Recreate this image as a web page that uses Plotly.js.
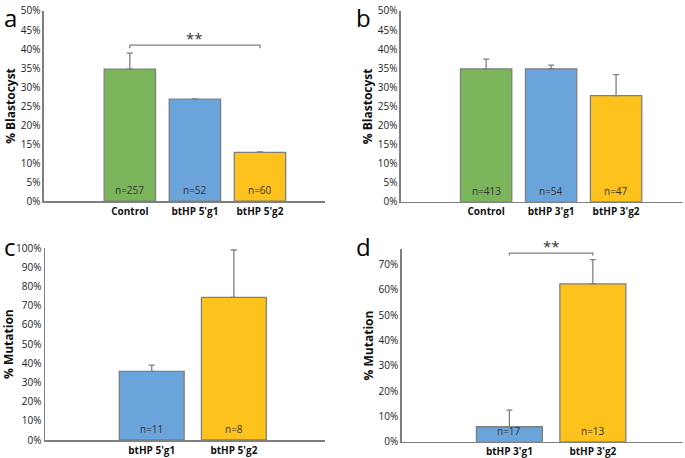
<!DOCTYPE html>
<html>
<head>
<meta charset="utf-8">
<script src="https://cdn.plot.ly/plotly-3.0.1.min.js"></script>
<style>html,body{margin:0;padding:0;background:#fff}#chart{width:685px;height:458px}</style>
</head>
<body>
<div id="chart"></div>
<script>
// Panel a
const catsA = ['Control', "btHP 5'g1", "btHP 5'g2"];
const valsA = [34.7, 26.8, 12.8];
const errA = [4.2, 0.1, 0.1];
const nA = ['n=257', 'n=52', 'n=60'];
// Panel b
const catsB = ['Control', "btHP 3'g1", "btHP 3'g2"];
const valsB = [34.8, 34.8, 27.8];
const errB = [2.6, 1.0, 5.5];
const nB = ['n=413', 'n=54', 'n=47'];
// Panel c
const catsC = ["btHP 5'g1", "btHP 5'g2"];
const valsC = [35.8, 74.4];
const errC = [3.3, 24.7];
const nC = ['n=11', 'n=8'];
// Panel d
const catsD = ["btHP 3'g1", "btHP 3'g2"];
const valsD = [5.9, 62.3];
const errD = [6.6, 9.6];
const nD = ['n=17', 'n=13'];
// Significance brackets: [from, to, height %]
const sigA = ['Control', "btHP 5'g2", 41.0];
const sigD = ["btHP 3'g1", "btHP 3'g2", 74.5];

const GREEN = '#7bb55b', BLUE = '#6aa4da', YELLOW = '#fdc31c';
const colorOf = c => c === 'Control' ? GREEN : (/g1$/.test(c) ? BLUE : YELLOW);
const EDGE = '#7f7f7f';
const FONT = 'Open Sans, Liberation Sans, sans-serif';

function barTrace(cats, vals, errs, ax) {
  return {
    type: 'bar', x: cats, y: vals, width: 0.79,
    xaxis: 'x' + ax, yaxis: 'y' + ax,
    marker: {color: cats.map(colorOf), line: {color: EDGE, width: 1.3}},
    error_y: {type: 'data', symmetric: false, array: errs, arrayminus: errs.map(() => 0),
              color: EDGE, thickness: 1.3, width: 3},
    hoverinfo: 'x+y', showlegend: false
  };
}

const data = [
  barTrace(catsA, valsA, errA, ''),
  barTrace(catsB, valsB, errB, '2'),
  barTrace(catsC, valsC, errC, '3'),
  barTrace(catsD, valsD, errD, '4')
];

function xax(domain, range) {
  return {domain: domain, range: range, type: 'category', showline: true, linecolor: EDGE, linewidth: 1.5,
    ticks: '', showgrid: false, zeroline: false, fixedrange: true,
    tickfont: {family: FONT, size: 10, color: '#111', weight: 'bold'}};
}
function yax(domain, range, dtick, title, anchor) {
  return {domain: domain, range: range, dtick: dtick, ticksuffix: '%', showline: true, linecolor: EDGE, linewidth: 1.5,
    ticks: '', showgrid: false, zeroline: false, fixedrange: true, anchor: anchor,
    tickfont: {family: FONT, size: 10, color: '#222'},
    title: {text: title, standoff: 2, font: {family: FONT, size: 12, color: '#111', weight: 'bold'}}};
}

const annotations = [];
function nLabels(cats, ns, ax) {
  cats.forEach((c, i) => annotations.push({
    x: c, y: 0, xref: 'x' + ax, yref: 'y' + ax, text: ns[i], showarrow: false,
    yanchor: 'bottom', yshift: 2, font: {family: FONT, size: 10, color: '#333'}
  }));
}
nLabels(catsA, nA, ''); nLabels(catsB, nB, '2'); nLabels(catsC, nC, '3'); nLabels(catsD, nD, '4');

const shapes = [];
function bracket(sig, cats, ax, drop) {
  const [a, b, h] = sig;
  const ia = cats.indexOf(a), ib = cats.indexOf(b);
  shapes.push({type: 'path', xref: 'x' + ax, yref: 'y' + ax,
    path: `M${ia},${h - drop} L${ia},${h} L${ib},${h} L${ib},${h - drop}`,
    line: {color: EDGE, width: 1.3}});
  annotations.push({x: (ia + ib) / 2, y: h, xref: 'x' + ax, yref: 'y' + ax, text: '**', showarrow: false,
    yanchor: 'bottom', yshift: -5, font: {family: FONT, size: 15, color: '#333'}});
}
bracket(sigA, catsA, '', 0.8);
bracket(sigD, catsD, '4', 1.0);

const letters = [['a', 0.015, 1.0], ['b', 0.53, 1.0], ['c', 0.015, 0.5], ['d', 0.53, 0.5]];
letters.forEach(([t, x, y]) => annotations.push({x: x, y: y, xref: 'paper', yref: 'paper', text: t,
  showarrow: false, xanchor: 'center', yanchor: 'top', yshift: 1, font: {family: FONT, size: 24, color: '#000'}}));

const layout = {
  width: 685, height: 458, margin: {l: 0, r: 0, t: 0, b: 0},
  paper_bgcolor: '#fff', plot_bgcolor: '#fff',
  xaxis: xax([0.0642, 0.4745], [-1.32, 3.0]),
  yaxis: yax([0.561, 0.976], [0, 50], 5, '% Blastocyst', 'x'),
  xaxis2: xax([0.5854, 0.9971], [-1.31, 3.03]),
  yaxis2: yax([0.5596, 0.976], [0, 50], 5, '% Blastocyst', 'x2'),
  xaxis3: xax([0.0657, 0.4745], [-1.30, 2.11]),
  yaxis3: yax([0.0393, 0.4579], [0, 100], 10, '% Mutation', 'x3'),
  xaxis4: xax([0.5864, 0.9971], [-1.29, 2.08]),
  yaxis4: yax([0.0356, 0.4557], [0, 76], 10, '% Mutation', 'x4'),
  annotations: annotations, shapes: shapes
};
layout.xaxis.anchor = 'y'; layout.xaxis2.anchor = 'y2'; layout.xaxis3.anchor = 'y3'; layout.xaxis4.anchor = 'y4';

Plotly.newPlot('chart', data, layout, {displayModeBar: false, staticPlot: true});
</script>
</body>
</html>
